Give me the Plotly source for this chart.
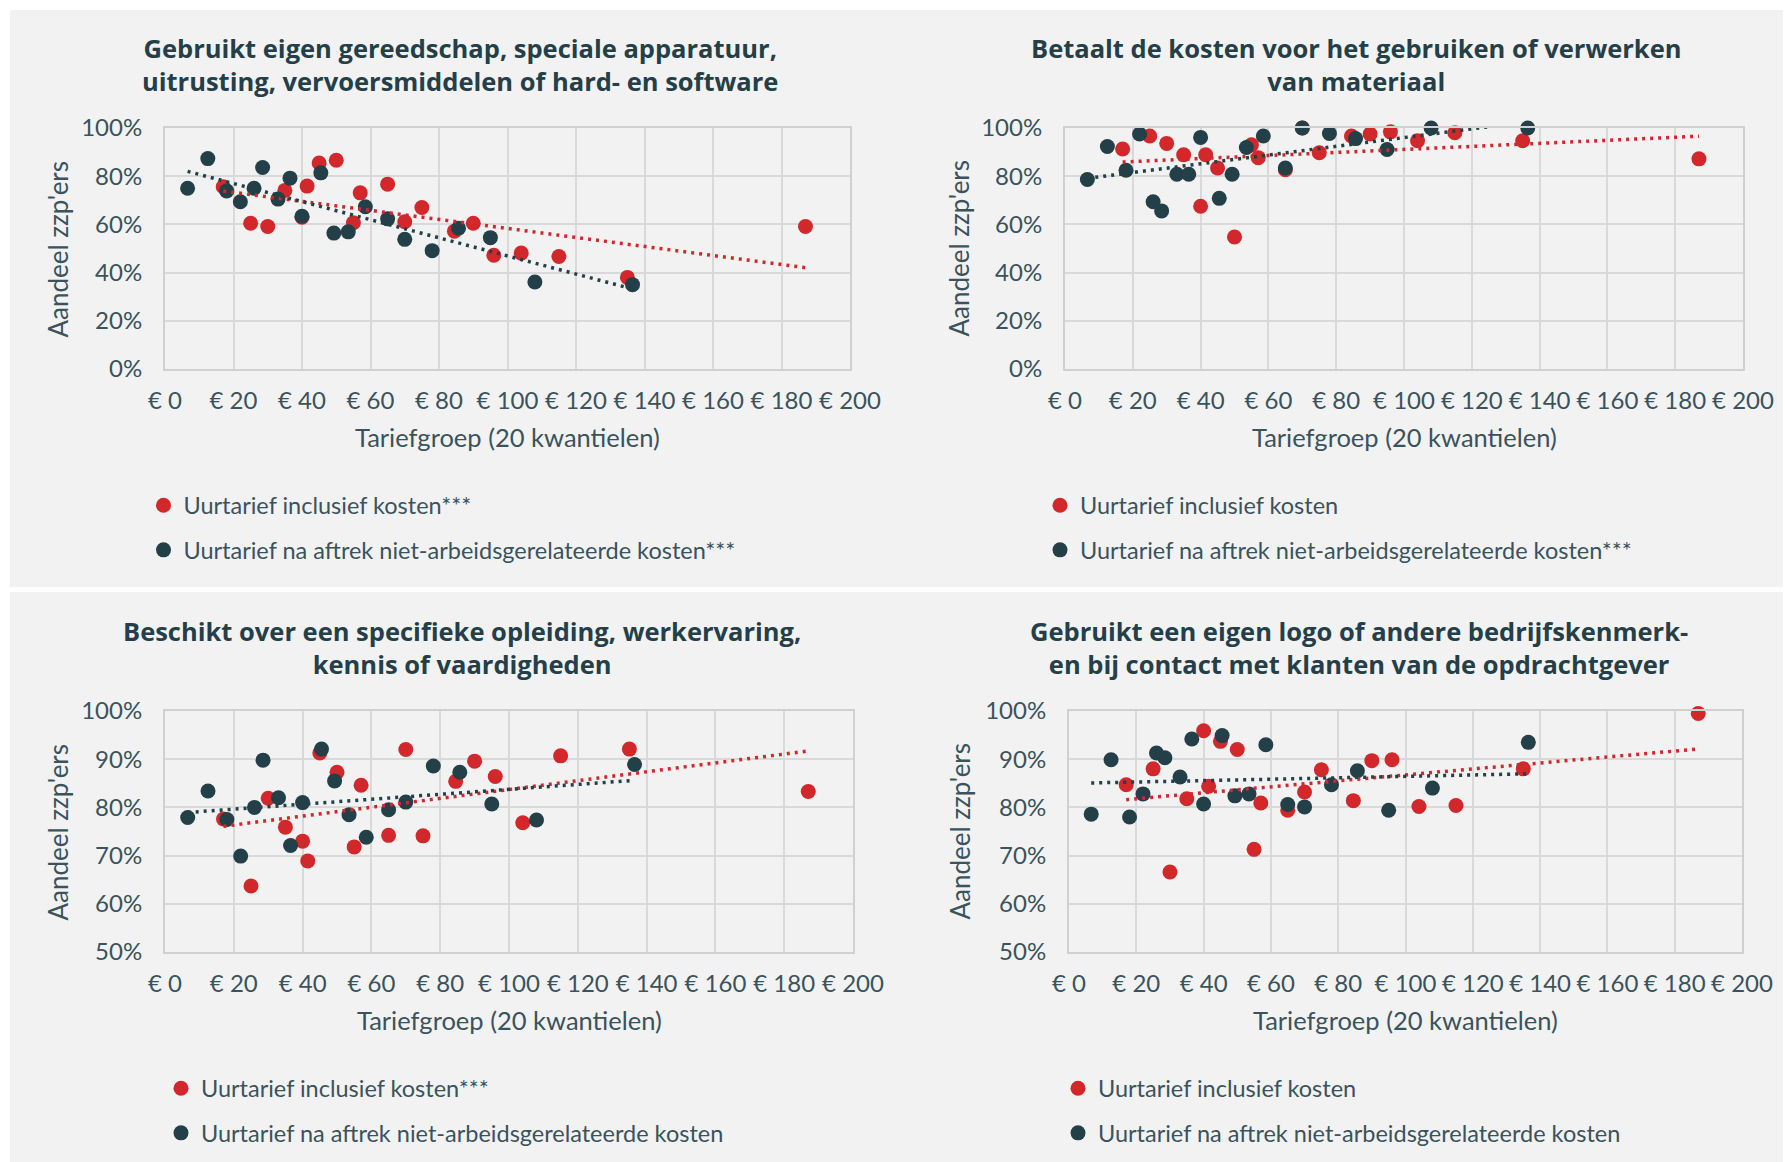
import numpy as np
import plotly.graph_objects as go

# ---------------- data ----------------
# x positions (median hourly rate of each of 20 quantile groups)
red_x = [17, 25, 30, 35, 40, 41.5, 45, 50, 55, 57, 65, 70, 75, 84.5, 90, 96, 104, 115, 135, 187]
dark_x = [6.6, 12.5, 18, 22, 26, 28.5, 33, 36.5, 40, 45.5, 49.3, 53.5, 58.5, 65, 70, 78, 85.7, 95, 108, 136.5]

# Panel 1: eigen gereedschap
p1_red = [0.756, 0.605, 0.591, 0.741, 0.63, 0.759, 0.855, 0.866, 0.607, 0.731,
          0.767, 0.611, 0.670, 0.572, 0.605, 0.472, 0.481, 0.467, 0.380, 0.591]
p1_dark = [0.750, 0.873, 0.739, 0.694, 0.750, 0.836, 0.705, 0.792, 0.634, 0.814,
           0.564, 0.569, 0.673, 0.623, 0.538, 0.491, 0.584, 0.545, 0.361, 0.350]
# Panel 2: kosten materiaal
p2_red = [0.913, 0.967, 0.936, 0.889, 0.675, 0.889, 0.834, 0.548, 0.930, 0.877,
          0.827, 1.000, 0.897, 0.967, 0.975, 0.984, 0.947, 0.980, 0.947, 0.872]
p2_dark = [0.786, 0.923, 0.825, 0.975, 0.694, 0.656, 0.808, 0.808, 0.961, 0.708,
           0.808, 0.919, 0.967, 0.834, 1.000, 0.977, 0.956, 0.911, 1.000, 1.000]
# Panel 3: opleiding
p3_red = [0.776, 0.637, 0.819, 0.759, 0.730, 0.689, 0.913, 0.873, 0.718, 0.846,
          0.742, 0.920, 0.741, 0.854, 0.896, 0.864, 0.768, 0.907, 0.921, 0.833]
p3_dark = [0.779, 0.834, 0.775, 0.699, 0.800, 0.898, 0.820, 0.721, 0.810, 0.921,
           0.855, 0.785, 0.738, 0.795, 0.811, 0.886, 0.873, 0.807, 0.774, 0.889]
# Panel 4: logo
p4_red = [0.847, 0.880, 0.666, 0.818, 0.959, 0.844, 0.937, 0.920, 0.713, 0.809,
          0.794, 0.832, 0.878, 0.814, 0.897, 0.899, 0.802, 0.804, 0.880, 0.995]
p4_dark = [0.786, 0.899, 0.780, 0.828, 0.913, 0.903, 0.863, 0.942, 0.807, 0.949,
           0.824, 0.828, 0.930, 0.806, 0.801, 0.847, 0.876, 0.794, 0.840, 0.935]

titles = [
    "Gebruikt eigen gereedschap, speciale apparatuur,<br>uitrusting, vervoersmiddelen of hard- en software",
    "Betaalt de kosten voor het gebruiken of verwerken<br>van materiaal",
    "Beschikt over een specifieke opleiding, werkervaring,<br>kennis of vaardigheden",
    "Gebruikt een eigen logo of andere bedrijfskenmerk-<br>en bij contact met klanten van de opdrachtgever",
]
red_names = ["Uurtarief inclusief kosten***", "Uurtarief inclusief kosten",
             "Uurtarief inclusief kosten***", "Uurtarief inclusief kosten"]
dark_names = ["Uurtarief na aftrek niet-arbeidsgerelateerde kosten***",
              "Uurtarief na aftrek niet-arbeidsgerelateerde kosten***",
              "Uurtarief na aftrek niet-arbeidsgerelateerde kosten",
              "Uurtarief na aftrek niet-arbeidsgerelateerde kosten"]
x_title = "Tariefgroep (20 kwantielen)"
y_title = "Aandeel zzp'ers"
x_ticks = [0, 20, 40, 60, 80, 100, 120, 140, 160, 180, 200]
x_ticklabels = ["€ 0", "€ 20", "€ 40", "€ 60", "€ 80", "€ 100",
                "€ 120", "€ 140", "€ 160", "€ 180", "€ 200"]
y_ticks_top = [0, 0.2, 0.4, 0.6, 0.8, 1.0]
y_ticks_bottom = [0.5, 0.6, 0.7, 0.8, 0.9, 1.0]

red_series = [p1_red, p2_red, p3_red, p4_red]
dark_series = [p1_dark, p2_dark, p3_dark, p4_dark]

# ---------------- style / layout ----------------
W, H = 1785, 1162
RED = "#d3282b"
DARK = "#233f47"
TITLE_C = "#243f48"
TEXT_C = "#3a535c"
GRID = "#d9d9d9"
FONT = "Lato"
TFONT = "Open Sans"


def px(x):
    return x / W


def py(y):
    return 1 - y / H


# plot rectangles in pixels: (left, right, top, bottom)
rects = [(165, 850, 128, 369), (1065, 1743, 128, 369),
         (165, 853, 711, 952), (1069, 1742, 711, 952)]
title_pos = [(460, 65), (1356, 65), (462, 647), (1359, 647)]
xtitle_pos = [(507, 437), (1404, 437), (509, 1020), (1405, 1020)]
ytitle_pos = [(57, 248.5), (958, 248.5), (57, 831.5), (959, 831.5)]
legend_pos = [(143.5, 483.5), (1040, 483.5), (161, 1066.5), (1058, 1066.5)]

fig = go.Figure()

for i in range(4):
    n = "" if i == 0 else str(i + 1)
    xa, ya = "x" + n, "y" + n
    lg = "legend" + n
    fig.add_trace(go.Scatter(
        x=red_x, y=red_series[i], mode="markers", name=red_names[i],
        marker=dict(color=RED, size=15), xaxis=xa, yaxis=ya, legend=lg,
        legendgroup="r" + n, cliponaxis=False, hoverinfo="skip"))
    fig.add_trace(go.Scatter(
        x=dark_x, y=dark_series[i], mode="markers", name=dark_names[i],
        marker=dict(color=DARK, size=15), xaxis=xa, yaxis=ya, legend=lg,
        legendgroup="d" + n, cliponaxis=False, hoverinfo="skip"))
    # linear trend lines (dotted)
    for xs, ys, c in ((red_x, red_series[i], RED), (dark_x, dark_series[i], DARK)):
        slope, icpt = np.polyfit(xs, ys, 1)
        xe = np.array([min(xs), max(xs)])
        fig.add_trace(go.Scatter(
            x=xe, y=slope * xe + icpt, mode="lines",
            line=dict(color=c, width=3.5, dash="3px,5px"),
            xaxis=xa, yaxis=ya, showlegend=False, hoverinfo="skip"))

    l, r, t, b = rects[i]
    top = i < 2
    fig.layout["xaxis" + n] = dict(
        domain=[px(l), px(r)], anchor=ya, range=[0, 200], automargin=False,
        tickmode="array", tickvals=x_ticks, ticktext=x_ticklabels,
        tickangle=0, showgrid=True, gridcolor=GRID, gridwidth=2,
        showline=True, linecolor="#d0d0d0", linewidth=2, mirror=True,
        zeroline=False, ticks="", ticklabelstandoff=9,
        tickfont=dict(family=FONT, size=24, color=TEXT_C), fixedrange=True)
    fig.layout["yaxis" + n] = dict(
        domain=[py(b), py(t)], anchor=xa, automargin=False,
        range=[0, 1] if top else [0.5, 1],
        tickmode="array", tickvals=y_ticks_top if top else y_ticks_bottom,
        tickformat=".0%", showgrid=True, gridcolor=GRID, gridwidth=2,
        showline=True, linecolor="#d0d0d0", linewidth=2, mirror=True,
        zeroline=False, ticks="", ticklabelstandoff=16,
        tickfont=dict(family=FONT, size=24, color=TEXT_C), fixedrange=True)

    lx, ly = legend_pos[i]
    fig.layout[lg] = dict(
        x=px(lx), y=py(ly), xanchor="left", yanchor="top",
        bgcolor="rgba(0,0,0,0)", orientation="v", tracegroupgap=11,
        font=dict(family=FONT, size=23.5, color=TEXT_C), itemclick=False,
        itemdoubleclick=False)

    tx, ty = title_pos[i]
    fig.add_annotation(
        x=px(tx), y=py(ty), xref="paper", yref="paper", showarrow=False,
        text=titles[i], xanchor="center", yanchor="middle", align="center",
        font=dict(family=TFONT, size=25.5, color=TITLE_C, weight=700))
    ax_, ay_ = xtitle_pos[i]
    fig.add_annotation(
        x=px(ax_), y=py(ay_), xref="paper", yref="paper", showarrow=False,
        text=x_title, xanchor="center", yanchor="middle",
        font=dict(family=FONT, size=25.5, color=TEXT_C))
    bx, by = ytitle_pos[i]
    fig.add_annotation(
        x=px(bx), y=py(by), xref="paper", yref="paper", showarrow=False,
        text=y_title, xanchor="center", yanchor="middle", textangle=-90,
        font=dict(family=FONT, size=26, color=TEXT_C))

# panel backgrounds
fig.add_shape(type="rect", xref="paper", yref="paper", layer="below",
              x0=px(10), x1=px(1783), y0=py(587), y1=py(10),
              fillcolor="#f2f2f2", line_width=0)
fig.add_shape(type="rect", xref="paper", yref="paper", layer="below",
              x0=px(10), x1=px(1783), y0=py(1162), y1=py(592),
              fillcolor="#f2f2f2", line_width=0)

fig.update_layout(
    template="none",
    width=W, height=H, margin=dict(l=0, r=0, t=0, b=0, pad=0, autoexpand=False),
    paper_bgcolor="white", plot_bgcolor="white",
    font=dict(family=FONT, color=TEXT_C), hovermode=False,
)

fig.write_html("out.html", config={"displayModeBar": False},
               post_script="document.body.style.margin='0';")
